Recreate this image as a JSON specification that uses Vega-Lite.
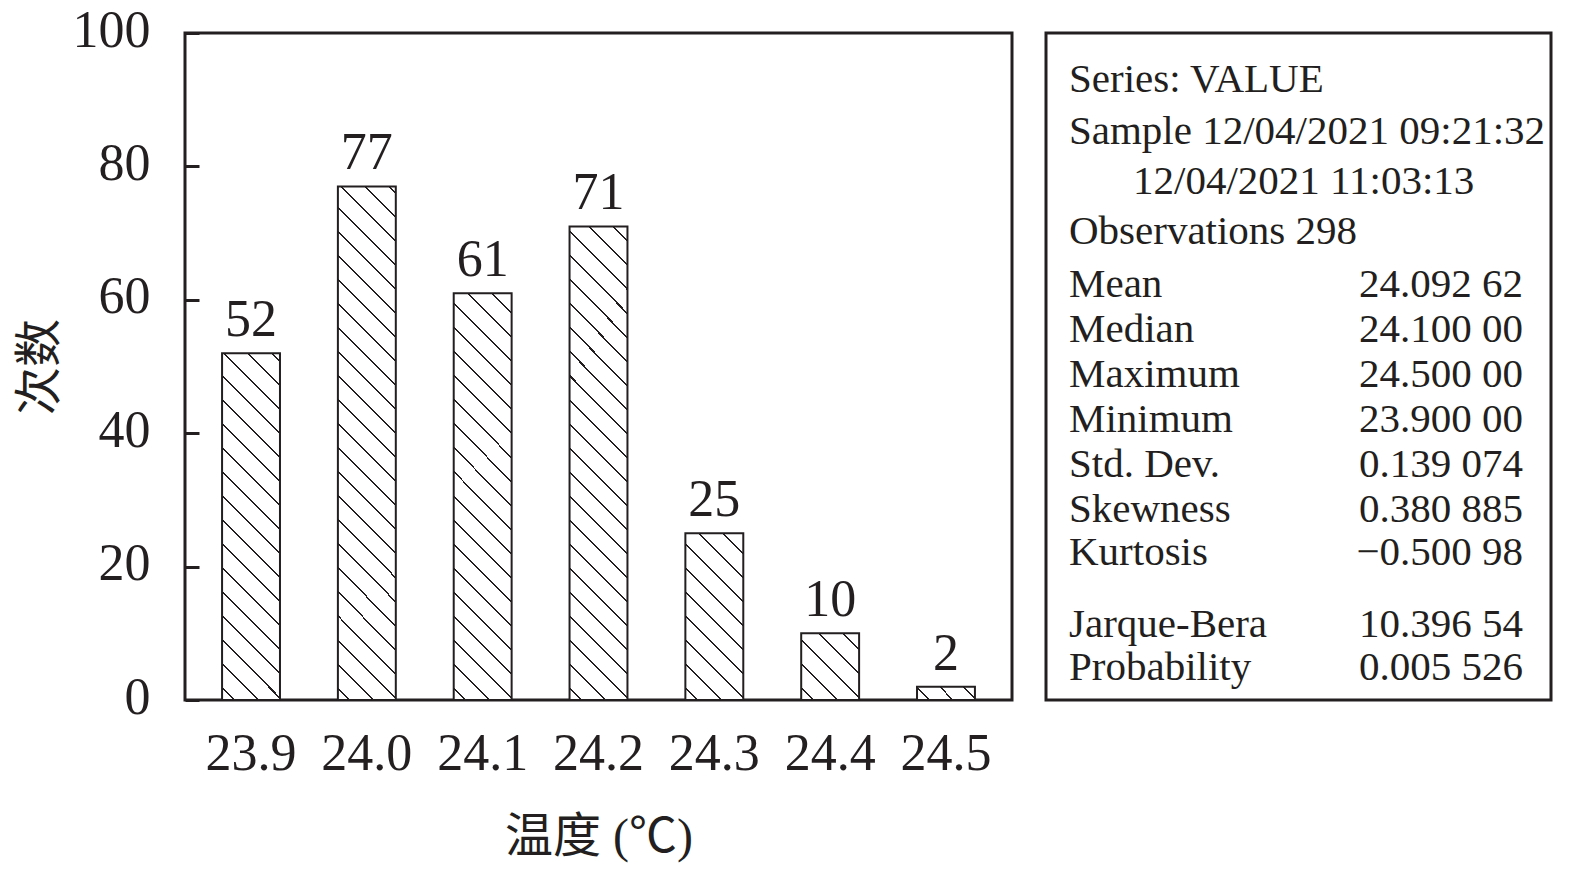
{
  "$schema": "https://vega.github.io/schema/vega-lite/v6.json",
  "description": "温度分布直方图与统计量",
  "background": "white",
  "padding": {"left": 14, "top": 2, "right": 10, "bottom": 5},
  "spacing": 30,
  "config": {
    "font": "Liberation Serif, Noto Sans CJK SC",
    "view": {"stroke": "#231f20", "strokeWidth": 3},
    "text": {"color": "#231f20"}
  },
  "hconcat": [
    {
      "width": 827,
      "height": 667,
      "data": {
        "values": [
          {"t": "23.9", "n": 52},
          {"t": "24.0", "n": 77},
          {"t": "24.1", "n": 61},
          {"t": "24.2", "n": 71},
          {"t": "24.3", "n": 25},
          {"t": "24.4", "n": 10},
          {"t": "24.5", "n": 2}
        ]
      },
      "encoding": {
        "x": {
          "field": "t",
          "type": "ordinal",
          "scale": {"paddingInner": 0.5, "paddingOuter": 0.32},
          "axis": {
            "title": "温度 (℃)",
            "labelAngle": 0,
            "ticks": false,
            "domain": false,
            "labelPadding": 28,
            "labelFontSize": 52,
            "labelColor": "#231f20",
            "titleFontSize": 48,
            "titleFontWeight": "normal",
            "titleColor": "#231f20",
            "titlePadding": 34
          }
        },
        "y": {
          "field": "n",
          "type": "quantitative",
          "scale": {"domain": [0, 100]},
          "axis": {
            "title": "次数",
            "values": [0, 20, 40, 60, 80, 100],
            "grid": false,
            "domain": false,
            "tickSize": -14,
            "tickWidth": 3,
            "tickColor": "#231f20",
            "labelPadding": 49,
            "labelOffset": -3,
            "labelFontSize": 52,
            "labelColor": "#231f20",
            "titleFontSize": 48,
            "titleFontWeight": "normal",
            "titleColor": "#231f20",
            "titlePadding": 8
          }
        }
      },
      "layer": [
        {
          "mark": {"type": "bar", "stroke": "#231f20", "strokeWidth": 2},
          "encoding": {
            "fill": {
              "condition": [
                {"test": "datum.t == '23.9'", "value": {"gradient": "linear", "x1": 0, "y1": 1, "x2": 0.1902, "y2": -0.1356, "stops": [
                  {"offset": 0.0272, "color": "#fff"}, {"offset": 0.0272, "color": "#231f20"}, {"offset": 0.0321, "color": "#231f20"}, {"offset": 0.0321, "color": "#fff"},
                  {"offset": 0.0866, "color": "#fff"}, {"offset": 0.0866, "color": "#231f20"}, {"offset": 0.0915, "color": "#231f20"}, {"offset": 0.0915, "color": "#fff"},
                  {"offset": 0.1459, "color": "#fff"}, {"offset": 0.1459, "color": "#231f20"}, {"offset": 0.1509, "color": "#231f20"}, {"offset": 0.1509, "color": "#fff"},
                  {"offset": 0.2053, "color": "#fff"}, {"offset": 0.2053, "color": "#231f20"}, {"offset": 0.2102, "color": "#231f20"}, {"offset": 0.2102, "color": "#fff"},
                  {"offset": 0.2647, "color": "#fff"}, {"offset": 0.2647, "color": "#231f20"}, {"offset": 0.2696, "color": "#231f20"}, {"offset": 0.2696, "color": "#fff"},
                  {"offset": 0.3240, "color": "#fff"}, {"offset": 0.3240, "color": "#231f20"}, {"offset": 0.3290, "color": "#231f20"}, {"offset": 0.3290, "color": "#fff"},
                  {"offset": 0.3834, "color": "#fff"}, {"offset": 0.3834, "color": "#231f20"}, {"offset": 0.3883, "color": "#231f20"}, {"offset": 0.3883, "color": "#fff"},
                  {"offset": 0.4427, "color": "#fff"}, {"offset": 0.4427, "color": "#231f20"}, {"offset": 0.4477, "color": "#231f20"}, {"offset": 0.4477, "color": "#fff"},
                  {"offset": 0.5021, "color": "#fff"}, {"offset": 0.5021, "color": "#231f20"}, {"offset": 0.5070, "color": "#231f20"}, {"offset": 0.5070, "color": "#fff"},
                  {"offset": 0.5615, "color": "#fff"}, {"offset": 0.5615, "color": "#231f20"}, {"offset": 0.5664, "color": "#231f20"}, {"offset": 0.5664, "color": "#fff"},
                  {"offset": 0.6208, "color": "#fff"}, {"offset": 0.6208, "color": "#231f20"}, {"offset": 0.6258, "color": "#231f20"}, {"offset": 0.6258, "color": "#fff"},
                  {"offset": 0.6802, "color": "#fff"}, {"offset": 0.6802, "color": "#231f20"}, {"offset": 0.6851, "color": "#231f20"}, {"offset": 0.6851, "color": "#fff"},
                  {"offset": 0.7396, "color": "#fff"}, {"offset": 0.7396, "color": "#231f20"}, {"offset": 0.7445, "color": "#231f20"}, {"offset": 0.7445, "color": "#fff"},
                  {"offset": 0.7989, "color": "#fff"}, {"offset": 0.7989, "color": "#231f20"}, {"offset": 0.8039, "color": "#231f20"}, {"offset": 0.8039, "color": "#fff"},
                  {"offset": 0.8583, "color": "#fff"}, {"offset": 0.8583, "color": "#231f20"}, {"offset": 0.8632, "color": "#231f20"}, {"offset": 0.8632, "color": "#fff"},
                  {"offset": 0.9176, "color": "#fff"}, {"offset": 0.9176, "color": "#231f20"}, {"offset": 0.9226, "color": "#231f20"}, {"offset": 0.9226, "color": "#fff"},
                  {"offset": 0.9770, "color": "#fff"}, {"offset": 0.9770, "color": "#231f20"}, {"offset": 0.9819, "color": "#231f20"}, {"offset": 0.9819, "color": "#fff"}
                ]}},
                {"test": "datum.t == '24.0'", "value": {"gradient": "linear", "x1": 0, "y1": 1, "x2": 0.1243, "y2": -0.0990, "stops": [
                  {"offset": 0.0193, "color": "#fff"}, {"offset": 0.0193, "color": "#231f20"}, {"offset": 0.0228, "color": "#231f20"}, {"offset": 0.0228, "color": "#fff"},
                  {"offset": 0.0613, "color": "#fff"}, {"offset": 0.0613, "color": "#231f20"}, {"offset": 0.0648, "color": "#231f20"}, {"offset": 0.0648, "color": "#fff"},
                  {"offset": 0.1034, "color": "#fff"}, {"offset": 0.1034, "color": "#231f20"}, {"offset": 0.1069, "color": "#231f20"}, {"offset": 0.1069, "color": "#fff"},
                  {"offset": 0.1454, "color": "#fff"}, {"offset": 0.1454, "color": "#231f20"}, {"offset": 0.1489, "color": "#231f20"}, {"offset": 0.1489, "color": "#fff"},
                  {"offset": 0.1875, "color": "#fff"}, {"offset": 0.1875, "color": "#231f20"}, {"offset": 0.1910, "color": "#231f20"}, {"offset": 0.1910, "color": "#fff"},
                  {"offset": 0.2295, "color": "#fff"}, {"offset": 0.2295, "color": "#231f20"}, {"offset": 0.2330, "color": "#231f20"}, {"offset": 0.2330, "color": "#fff"},
                  {"offset": 0.2716, "color": "#fff"}, {"offset": 0.2716, "color": "#231f20"}, {"offset": 0.2751, "color": "#231f20"}, {"offset": 0.2751, "color": "#fff"},
                  {"offset": 0.3136, "color": "#fff"}, {"offset": 0.3136, "color": "#231f20"}, {"offset": 0.3171, "color": "#231f20"}, {"offset": 0.3171, "color": "#fff"},
                  {"offset": 0.3556, "color": "#fff"}, {"offset": 0.3556, "color": "#231f20"}, {"offset": 0.3591, "color": "#231f20"}, {"offset": 0.3591, "color": "#fff"},
                  {"offset": 0.3977, "color": "#fff"}, {"offset": 0.3977, "color": "#231f20"}, {"offset": 0.4012, "color": "#231f20"}, {"offset": 0.4012, "color": "#fff"},
                  {"offset": 0.4397, "color": "#fff"}, {"offset": 0.4397, "color": "#231f20"}, {"offset": 0.4432, "color": "#231f20"}, {"offset": 0.4432, "color": "#fff"},
                  {"offset": 0.4818, "color": "#fff"}, {"offset": 0.4818, "color": "#231f20"}, {"offset": 0.4853, "color": "#231f20"}, {"offset": 0.4853, "color": "#fff"},
                  {"offset": 0.5238, "color": "#fff"}, {"offset": 0.5238, "color": "#231f20"}, {"offset": 0.5273, "color": "#231f20"}, {"offset": 0.5273, "color": "#fff"},
                  {"offset": 0.5659, "color": "#fff"}, {"offset": 0.5659, "color": "#231f20"}, {"offset": 0.5694, "color": "#231f20"}, {"offset": 0.5694, "color": "#fff"},
                  {"offset": 0.6079, "color": "#fff"}, {"offset": 0.6079, "color": "#231f20"}, {"offset": 0.6114, "color": "#231f20"}, {"offset": 0.6114, "color": "#fff"},
                  {"offset": 0.6500, "color": "#fff"}, {"offset": 0.6500, "color": "#231f20"}, {"offset": 0.6535, "color": "#231f20"}, {"offset": 0.6535, "color": "#fff"},
                  {"offset": 0.6920, "color": "#fff"}, {"offset": 0.6920, "color": "#231f20"}, {"offset": 0.6955, "color": "#231f20"}, {"offset": 0.6955, "color": "#fff"},
                  {"offset": 0.7341, "color": "#fff"}, {"offset": 0.7341, "color": "#231f20"}, {"offset": 0.7376, "color": "#231f20"}, {"offset": 0.7376, "color": "#fff"},
                  {"offset": 0.7761, "color": "#fff"}, {"offset": 0.7761, "color": "#231f20"}, {"offset": 0.7796, "color": "#231f20"}, {"offset": 0.7796, "color": "#fff"},
                  {"offset": 0.8182, "color": "#fff"}, {"offset": 0.8182, "color": "#231f20"}, {"offset": 0.8217, "color": "#231f20"}, {"offset": 0.8217, "color": "#fff"},
                  {"offset": 0.8602, "color": "#fff"}, {"offset": 0.8602, "color": "#231f20"}, {"offset": 0.8637, "color": "#231f20"}, {"offset": 0.8637, "color": "#fff"},
                  {"offset": 0.9022, "color": "#fff"}, {"offset": 0.9022, "color": "#231f20"}, {"offset": 0.9057, "color": "#231f20"}, {"offset": 0.9057, "color": "#fff"},
                  {"offset": 0.9443, "color": "#fff"}, {"offset": 0.9443, "color": "#231f20"}, {"offset": 0.9478, "color": "#231f20"}, {"offset": 0.9478, "color": "#fff"},
                  {"offset": 0.9863, "color": "#fff"}, {"offset": 0.9863, "color": "#231f20"}, {"offset": 0.9898, "color": "#231f20"}, {"offset": 0.9898, "color": "#fff"}
                ]}},
                {"test": "datum.t == '24.1'", "value": {"gradient": "linear", "x1": 0, "y1": 1, "x2": 0.1599, "y2": -0.1199, "stops": [
                  {"offset": 0.0237, "color": "#fff"}, {"offset": 0.0237, "color": "#231f20"}, {"offset": 0.0280, "color": "#231f20"}, {"offset": 0.0280, "color": "#fff"},
                  {"offset": 0.0754, "color": "#fff"}, {"offset": 0.0754, "color": "#231f20"}, {"offset": 0.0797, "color": "#231f20"}, {"offset": 0.0797, "color": "#fff"},
                  {"offset": 0.1271, "color": "#fff"}, {"offset": 0.1271, "color": "#231f20"}, {"offset": 0.1314, "color": "#231f20"}, {"offset": 0.1314, "color": "#fff"},
                  {"offset": 0.1788, "color": "#fff"}, {"offset": 0.1788, "color": "#231f20"}, {"offset": 0.1831, "color": "#231f20"}, {"offset": 0.1831, "color": "#fff"},
                  {"offset": 0.2305, "color": "#fff"}, {"offset": 0.2305, "color": "#231f20"}, {"offset": 0.2348, "color": "#231f20"}, {"offset": 0.2348, "color": "#fff"},
                  {"offset": 0.2822, "color": "#fff"}, {"offset": 0.2822, "color": "#231f20"}, {"offset": 0.2865, "color": "#231f20"}, {"offset": 0.2865, "color": "#fff"},
                  {"offset": 0.3338, "color": "#fff"}, {"offset": 0.3338, "color": "#231f20"}, {"offset": 0.3381, "color": "#231f20"}, {"offset": 0.3381, "color": "#fff"},
                  {"offset": 0.3855, "color": "#fff"}, {"offset": 0.3855, "color": "#231f20"}, {"offset": 0.3898, "color": "#231f20"}, {"offset": 0.3898, "color": "#fff"},
                  {"offset": 0.4372, "color": "#fff"}, {"offset": 0.4372, "color": "#231f20"}, {"offset": 0.4415, "color": "#231f20"}, {"offset": 0.4415, "color": "#fff"},
                  {"offset": 0.4889, "color": "#fff"}, {"offset": 0.4889, "color": "#231f20"}, {"offset": 0.4932, "color": "#231f20"}, {"offset": 0.4932, "color": "#fff"},
                  {"offset": 0.5406, "color": "#fff"}, {"offset": 0.5406, "color": "#231f20"}, {"offset": 0.5449, "color": "#231f20"}, {"offset": 0.5449, "color": "#fff"},
                  {"offset": 0.5923, "color": "#fff"}, {"offset": 0.5923, "color": "#231f20"}, {"offset": 0.5966, "color": "#231f20"}, {"offset": 0.5966, "color": "#fff"},
                  {"offset": 0.6440, "color": "#fff"}, {"offset": 0.6440, "color": "#231f20"}, {"offset": 0.6483, "color": "#231f20"}, {"offset": 0.6483, "color": "#fff"},
                  {"offset": 0.6957, "color": "#fff"}, {"offset": 0.6957, "color": "#231f20"}, {"offset": 0.7000, "color": "#231f20"}, {"offset": 0.7000, "color": "#fff"},
                  {"offset": 0.7474, "color": "#fff"}, {"offset": 0.7474, "color": "#231f20"}, {"offset": 0.7517, "color": "#231f20"}, {"offset": 0.7517, "color": "#fff"},
                  {"offset": 0.7991, "color": "#fff"}, {"offset": 0.7991, "color": "#231f20"}, {"offset": 0.8034, "color": "#231f20"}, {"offset": 0.8034, "color": "#fff"},
                  {"offset": 0.8507, "color": "#fff"}, {"offset": 0.8507, "color": "#231f20"}, {"offset": 0.8551, "color": "#231f20"}, {"offset": 0.8551, "color": "#fff"},
                  {"offset": 0.9024, "color": "#fff"}, {"offset": 0.9024, "color": "#231f20"}, {"offset": 0.9067, "color": "#231f20"}, {"offset": 0.9067, "color": "#fff"},
                  {"offset": 0.9541, "color": "#fff"}, {"offset": 0.9541, "color": "#231f20"}, {"offset": 0.9584, "color": "#231f20"}, {"offset": 0.9584, "color": "#fff"}
                ]}},
                {"test": "datum.t == '24.2'", "value": {"gradient": "linear", "x1": 0, "y1": 1, "x2": 0.1357, "y2": -0.1060, "stops": [
                  {"offset": 0.0207, "color": "#fff"}, {"offset": 0.0207, "color": "#231f20"}, {"offset": 0.0245, "color": "#231f20"}, {"offset": 0.0245, "color": "#fff"},
                  {"offset": 0.0659, "color": "#fff"}, {"offset": 0.0659, "color": "#231f20"}, {"offset": 0.0697, "color": "#231f20"}, {"offset": 0.0697, "color": "#fff"},
                  {"offset": 0.1111, "color": "#fff"}, {"offset": 0.1111, "color": "#231f20"}, {"offset": 0.1149, "color": "#231f20"}, {"offset": 0.1149, "color": "#fff"},
                  {"offset": 0.1563, "color": "#fff"}, {"offset": 0.1563, "color": "#231f20"}, {"offset": 0.1601, "color": "#231f20"}, {"offset": 0.1601, "color": "#fff"},
                  {"offset": 0.2015, "color": "#fff"}, {"offset": 0.2015, "color": "#231f20"}, {"offset": 0.2053, "color": "#231f20"}, {"offset": 0.2053, "color": "#fff"},
                  {"offset": 0.2467, "color": "#fff"}, {"offset": 0.2467, "color": "#231f20"}, {"offset": 0.2505, "color": "#231f20"}, {"offset": 0.2505, "color": "#fff"},
                  {"offset": 0.2920, "color": "#fff"}, {"offset": 0.2920, "color": "#231f20"}, {"offset": 0.2957, "color": "#231f20"}, {"offset": 0.2957, "color": "#fff"},
                  {"offset": 0.3372, "color": "#fff"}, {"offset": 0.3372, "color": "#231f20"}, {"offset": 0.3409, "color": "#231f20"}, {"offset": 0.3409, "color": "#fff"},
                  {"offset": 0.3824, "color": "#fff"}, {"offset": 0.3824, "color": "#231f20"}, {"offset": 0.3861, "color": "#231f20"}, {"offset": 0.3861, "color": "#fff"},
                  {"offset": 0.4276, "color": "#fff"}, {"offset": 0.4276, "color": "#231f20"}, {"offset": 0.4313, "color": "#231f20"}, {"offset": 0.4313, "color": "#fff"},
                  {"offset": 0.4728, "color": "#fff"}, {"offset": 0.4728, "color": "#231f20"}, {"offset": 0.4765, "color": "#231f20"}, {"offset": 0.4765, "color": "#fff"},
                  {"offset": 0.5180, "color": "#fff"}, {"offset": 0.5180, "color": "#231f20"}, {"offset": 0.5218, "color": "#231f20"}, {"offset": 0.5218, "color": "#fff"},
                  {"offset": 0.5632, "color": "#fff"}, {"offset": 0.5632, "color": "#231f20"}, {"offset": 0.5670, "color": "#231f20"}, {"offset": 0.5670, "color": "#fff"},
                  {"offset": 0.6084, "color": "#fff"}, {"offset": 0.6084, "color": "#231f20"}, {"offset": 0.6122, "color": "#231f20"}, {"offset": 0.6122, "color": "#fff"},
                  {"offset": 0.6536, "color": "#fff"}, {"offset": 0.6536, "color": "#231f20"}, {"offset": 0.6574, "color": "#231f20"}, {"offset": 0.6574, "color": "#fff"},
                  {"offset": 0.6988, "color": "#fff"}, {"offset": 0.6988, "color": "#231f20"}, {"offset": 0.7026, "color": "#231f20"}, {"offset": 0.7026, "color": "#fff"},
                  {"offset": 0.7440, "color": "#fff"}, {"offset": 0.7440, "color": "#231f20"}, {"offset": 0.7478, "color": "#231f20"}, {"offset": 0.7478, "color": "#fff"},
                  {"offset": 0.7892, "color": "#fff"}, {"offset": 0.7892, "color": "#231f20"}, {"offset": 0.7930, "color": "#231f20"}, {"offset": 0.7930, "color": "#fff"},
                  {"offset": 0.8344, "color": "#fff"}, {"offset": 0.8344, "color": "#231f20"}, {"offset": 0.8382, "color": "#231f20"}, {"offset": 0.8382, "color": "#fff"},
                  {"offset": 0.8796, "color": "#fff"}, {"offset": 0.8796, "color": "#231f20"}, {"offset": 0.8834, "color": "#231f20"}, {"offset": 0.8834, "color": "#fff"},
                  {"offset": 0.9248, "color": "#fff"}, {"offset": 0.9248, "color": "#231f20"}, {"offset": 0.9286, "color": "#231f20"}, {"offset": 0.9286, "color": "#fff"},
                  {"offset": 0.9700, "color": "#fff"}, {"offset": 0.9700, "color": "#231f20"}, {"offset": 0.9738, "color": "#231f20"}, {"offset": 0.9738, "color": "#fff"}
                ]}},
                {"test": "datum.t == '24.3'", "value": {"gradient": "linear", "x1": 0, "y1": 1, "x2": 0.4189, "y2": -0.2024, "stops": [
                  {"offset": 0.0490, "color": "#fff"}, {"offset": 0.0490, "color": "#231f20"}, {"offset": 0.0579, "color": "#231f20"}, {"offset": 0.0579, "color": "#fff"},
                  {"offset": 0.1559, "color": "#fff"}, {"offset": 0.1559, "color": "#231f20"}, {"offset": 0.1648, "color": "#231f20"}, {"offset": 0.1648, "color": "#fff"},
                  {"offset": 0.2628, "color": "#fff"}, {"offset": 0.2628, "color": "#231f20"}, {"offset": 0.2717, "color": "#231f20"}, {"offset": 0.2717, "color": "#fff"},
                  {"offset": 0.3697, "color": "#fff"}, {"offset": 0.3697, "color": "#231f20"}, {"offset": 0.3786, "color": "#231f20"}, {"offset": 0.3786, "color": "#fff"},
                  {"offset": 0.4766, "color": "#fff"}, {"offset": 0.4766, "color": "#231f20"}, {"offset": 0.4855, "color": "#231f20"}, {"offset": 0.4855, "color": "#fff"},
                  {"offset": 0.5835, "color": "#fff"}, {"offset": 0.5835, "color": "#231f20"}, {"offset": 0.5924, "color": "#231f20"}, {"offset": 0.5924, "color": "#fff"},
                  {"offset": 0.6904, "color": "#fff"}, {"offset": 0.6904, "color": "#231f20"}, {"offset": 0.6993, "color": "#231f20"}, {"offset": 0.6993, "color": "#fff"},
                  {"offset": 0.7973, "color": "#fff"}, {"offset": 0.7973, "color": "#231f20"}, {"offset": 0.8062, "color": "#231f20"}, {"offset": 0.8062, "color": "#fff"},
                  {"offset": 0.9042, "color": "#fff"}, {"offset": 0.9042, "color": "#231f20"}, {"offset": 0.9131, "color": "#231f20"}, {"offset": 0.9131, "color": "#fff"}
                ]}},
                {"test": "datum.t == '24.4'", "value": {"gradient": "linear", "x1": 0, "y1": 1, "x2": 0.9265, "y2": -0.0639, "stops": [
                  {"offset": 0.0883, "color": "#fff"}, {"offset": 0.0883, "color": "#231f20"}, {"offset": 0.1043, "color": "#231f20"}, {"offset": 0.1043, "color": "#fff"},
                  {"offset": 0.2809, "color": "#fff"}, {"offset": 0.2809, "color": "#231f20"}, {"offset": 0.2970, "color": "#231f20"}, {"offset": 0.2970, "color": "#fff"},
                  {"offset": 0.4735, "color": "#fff"}, {"offset": 0.4735, "color": "#231f20"}, {"offset": 0.4896, "color": "#231f20"}, {"offset": 0.4896, "color": "#fff"},
                  {"offset": 0.6661, "color": "#fff"}, {"offset": 0.6661, "color": "#231f20"}, {"offset": 0.6822, "color": "#231f20"}, {"offset": 0.6822, "color": "#fff"},
                  {"offset": 0.8587, "color": "#fff"}, {"offset": 0.8587, "color": "#231f20"}, {"offset": 0.8748, "color": "#231f20"}, {"offset": 0.8748, "color": "#fff"}
                ]}},
                {"test": "datum.t == '24.5'", "value": {"gradient": "linear", "x1": 0, "y1": 1, "x2": 1.1679, "y2": 0.7322, "stops": [
                  {"offset": 0.1543, "color": "#fff"}, {"offset": 0.1543, "color": "#231f20"}, {"offset": 0.1823, "color": "#231f20"}, {"offset": 0.1823, "color": "#fff"},
                  {"offset": 0.4909, "color": "#fff"}, {"offset": 0.4909, "color": "#231f20"}, {"offset": 0.5189, "color": "#231f20"}, {"offset": 0.5189, "color": "#fff"},
                  {"offset": 0.8275, "color": "#fff"}, {"offset": 0.8275, "color": "#231f20"}, {"offset": 0.8555, "color": "#231f20"}, {"offset": 0.8555, "color": "#fff"}
                ]}}
              ],
              "value": "white"
            }
          }
        },
        {
          "mark": {"type": "text", "baseline": "alphabetic", "dy": -17, "fontSize": 52, "color": "#231f20"},
          "encoding": {
            "text": {"field": "n", "type": "quantitative"}
          }
        }
      ]
    },
    {
      "width": 505,
      "height": 667,
      "data": {
        "values": [
          {"col": "label", "text": "Series: VALUE", "line": 1.311},
          {"col": "label", "text": "Sample 12/04/2021 09:21:32", "line": 2.467},
          {"col": "indent", "text": "12/04/2021 11:03:13", "line": 3.578},
          {"col": "label", "text": "Observations 298", "line": 4.689},
          {"col": "label", "text": "Mean", "line": 5.867},
          {"col": "value", "text": "24.092 62", "line": 5.867},
          {"col": "label", "text": "Median", "line": 6.867},
          {"col": "value", "text": "24.100 00", "line": 6.867},
          {"col": "label", "text": "Maximum", "line": 7.867},
          {"col": "value", "text": "24.500 00", "line": 7.867},
          {"col": "label", "text": "Minimum", "line": 8.867},
          {"col": "value", "text": "23.900 00", "line": 8.867},
          {"col": "label", "text": "Std. Dev.", "line": 9.867},
          {"col": "value", "text": "0.139 074", "line": 9.867},
          {"col": "label", "text": "Skewness", "line": 10.867},
          {"col": "value", "text": "0.380 885", "line": 10.867},
          {"col": "label", "text": "Kurtosis", "line": 11.822},
          {"col": "value", "text": "−0.500 98", "line": 11.822},
          {"col": "label", "text": "Jarque-Bera", "line": 13.422},
          {"col": "value", "text": "10.396 54", "line": 13.422},
          {"col": "label", "text": "Probability", "line": 14.378},
          {"col": "value", "text": "0.005 526", "line": 14.378}
        ]
      },
      "encoding": {
        "y": {"field": "line", "type": "quantitative", "scale": {"domain": [0, 14.822], "reverse": true}, "axis": null},
        "text": {"field": "text", "type": "nominal"}
      },
      "layer": [
        {
          "transform": [{"filter": "datum.col == 'label'"}],
          "mark": {"type": "text", "align": "left", "baseline": "alphabetic", "fontSize": 41, "color": "#231f20"},
          "encoding": {"x": {"datum": 0.0455, "type": "quantitative", "scale": {"domain": [0, 1]}, "axis": null}}
        },
        {
          "transform": [{"filter": "datum.col == 'indent'"}],
          "mark": {"type": "text", "align": "left", "baseline": "alphabetic", "fontSize": 41, "color": "#231f20"},
          "encoding": {"x": {"datum": 0.1723, "type": "quantitative", "scale": {"domain": [0, 1]}, "axis": null}}
        },
        {
          "transform": [{"filter": "datum.col == 'value'"}],
          "mark": {"type": "text", "align": "right", "baseline": "alphabetic", "fontSize": 41, "color": "#231f20"},
          "encoding": {"x": {"datum": 0.9446, "type": "quantitative", "scale": {"domain": [0, 1]}, "axis": null}}
        }
      ]
    }
  ]
}
